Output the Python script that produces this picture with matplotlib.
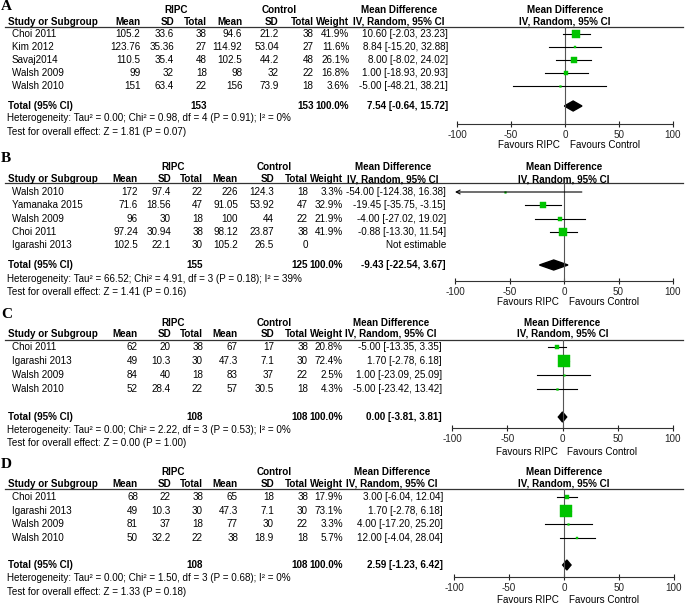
import numpy as np
import matplotlib
matplotlib.use("Agg")
import matplotlib.pyplot as plt

plt.rcParams['font.family'] = ['Liberation Sans', 'DejaVu Sans']
FS = 7.1
GREEN = '#00c400'
W, H = 685, 605

# ---------------- data ----------------
# Panel A
a_studies = ["Choi 2011", "Kim 2012", "Savaj2014", "Walsh 2009", "Walsh 2010"]
a_ripc_mean = [105.2, 123.76, 110.5, 99, 151]
a_ripc_sd = [33.6, 35.36, 35.4, 32, 63.4]
a_ripc_n = [38, 27, 48, 18, 22]
a_ctrl_mean = [94.6, 114.92, 102.5, 98, 156]
a_ctrl_sd = [21.2, 53.04, 44.2, 32, 73.9]
a_ctrl_n = [38, 27, 48, 22, 18]
a_weight = [41.9, 11.6, 26.1, 16.8, 3.6]
a_md = [10.60, 8.84, 8.00, 1.00, -5.00]
a_lo = [-2.03, -15.20, -8.02, -18.93, -48.21]
a_hi = [23.23, 32.88, 24.02, 20.93, 38.21]
a_total = (153, 153, 7.54, -0.64, 15.72)
a_het = "Heterogeneity: Tau\u00b2 = 0.00; Chi\u00b2 = 0.98, df = 4 (P = 0.91); I\u00b2 = 0%"
a_test = "Test for overall effect: Z = 1.81 (P = 0.07)"

# Panel B
b_studies = ["Walsh 2010", "Yamanaka 2015", "Walsh 2009", "Choi 2011", "Igarashi 2013"]
b_ripc_mean = [172, 71.6, 96, 97.24, 102.5]
b_ripc_sd = [97.4, 18.56, 30, 30.94, 22.1]
b_ripc_n = [22, 47, 18, 38, 30]
b_ctrl_mean = [226, 91.05, 100, 98.12, 105.2]
b_ctrl_sd = [124.3, 53.92, 44, 23.87, 26.5]
b_ctrl_n = [18, 47, 22, 38, 0]
b_weight = [3.3, 32.9, 21.9, 41.9, None]
b_md = [-54.00, -19.45, -4.00, -0.88, None]
b_lo = [-124.38, -35.75, -27.02, -13.30, None]
b_hi = [16.38, -3.15, 19.02, 11.54, None]
b_total = (155, 125, -9.43, -22.54, 3.67)
b_het = "Heterogeneity: Tau\u00b2 = 66.52; Chi\u00b2 = 4.91, df = 3 (P = 0.18); I\u00b2 = 39%"
b_test = "Test for overall effect: Z = 1.41 (P = 0.16)"

# Panel C
c_studies = ["Choi 2011", "Igarashi 2013", "Walsh 2009", "Walsh 2010"]
c_ripc_mean = [62, 49, 84, 52]
c_ripc_sd = [20, 10.3, 40, 28.4]
c_ripc_n = [38, 30, 18, 22]
c_ctrl_mean = [67, 47.3, 83, 57]
c_ctrl_sd = [17, 7.1, 37, 30.5]
c_ctrl_n = [38, 30, 22, 18]
c_weight = [20.8, 72.4, 2.5, 4.3]
c_md = [-5.00, 1.70, 1.00, -5.00]
c_lo = [-13.35, -2.78, -23.09, -23.42]
c_hi = [3.35, 6.18, 25.09, 13.42]
c_total = (108, 108, 0.00, -3.81, 3.81)
c_het = "Heterogeneity: Tau\u00b2 = 0.00; Chi\u00b2 = 2.22, df = 3 (P = 0.53); I\u00b2 = 0%"
c_test = "Test for overall effect: Z = 0.00 (P = 1.00)"

# Panel D
d_studies = ["Choi 2011", "Igarashi 2013", "Walsh 2009", "Walsh 2010"]
d_ripc_mean = [68, 49, 81, 50]
d_ripc_sd = [22, 10.3, 37, 32.2]
d_ripc_n = [38, 30, 18, 22]
d_ctrl_mean = [65, 47.3, 77, 38]
d_ctrl_sd = [18, 7.1, 30, 18.9]
d_ctrl_n = [38, 30, 22, 18]
d_weight = [17.9, 73.1, 3.3, 5.7]
d_md = [3.00, 1.70, 4.00, 12.00]
d_lo = [-6.04, -2.78, -17.20, -4.04]
d_hi = [12.04, 6.18, 25.20, 28.04]
d_total = (108, 108, 2.59, -1.23, 6.42)
d_het = "Heterogeneity: Tau\u00b2 = 0.00; Chi\u00b2 = 1.50, df = 3 (P = 0.68); I\u00b2 = 0%"
d_test = "Test for overall effect: Z = 1.33 (P = 0.18)"

xticks = [-100, -50, 0, 50, 100]

# ---------------- layout (pixels) ----------------
base_cols = [138, 171, 203, 238, 274, 308, 343]
layouts = {
    'A': dict(letter=7, grp=10, hdr=22, line=27, row0=34, step=13.0, total=106,
              het=118, test=132, axis=124, fav=145, fl=457, fr=673, mdr=448, mdc=399, scale=1.018),
    'B': dict(letter=158, grp=167, hdr=179, line=183, row0=192, step=13.3, total=265,
              het=279, test=292, axis=281, fav=302, fl=455, fr=673, mdr=446, mdc=393, scale=1.0),
    'C': dict(letter=315, grp=323, hdr=334, line=340, row0=347, step=14.0, total=417,
              het=430, test=443, axis=428, fav=452, fl=452, fr=673, mdr=442, mdc=391, scale=1.0),
    'D': dict(letter=465, grp=472, hdr=484, line=489, row0=497, step=13.7, total=565,
              het=578, test=592, axis=577, fav=600, fl=454, fr=674, mdr=443, mdc=392, scale=1.0),
}

fig = plt.figure(figsize=(W / 100, H / 100), dpi=100)
tax = fig.add_axes([0, 0, 1, 1])
tax.set_xlim(0, W)
tax.set_ylim(H, 0)
tax.axis('off')


def txt(x, y, s, ha='left', bold=False, **kw):
    tax.text(x, y, s, ha=ha, va='center', fontsize=FS,
             fontweight='bold' if bold else 'normal', **kw)


def draw_panel(letter, studies, rm, rsd, rn, cm, csd, cn, wt, md, lo, hi, total, het, test):
    L = layouts[letter]
    cols = [c * L['scale'] for c in base_cols]
    zero_px = (L['fl'] + L['fr']) / 2

    # headers
    tax.text(1, L['letter'], letter, ha='left', va='center', fontsize=11,
             fontweight='bold', family=['Liberation Serif', 'DejaVu Serif'])
    txt((cols[0] + cols[2]) / 2 + 3, L['grp'], "RIPC", ha='center', bold=True)
    txt((cols[3] + cols[5]) / 2 + 1, L['grp'], "Control", ha='center', bold=True)
    txt(L['mdc'], L['grp'], "Mean Difference", ha='center', bold=True)
    txt(zero_px, L['grp'], "Mean Difference", ha='center', bold=True)
    txt(8, L['hdr'], "Study or Subgroup", bold=True)
    for c, s in zip(cols, ["Mean", "SD", "Total", "Mean", "SD", "Total", "Weight"]):
        txt(c, L['hdr'], s, ha='right', bold=True)
    txt(L['mdc'], L['hdr'], "IV, Random, 95% CI", ha='center', bold=True)
    txt(zero_px, L['hdr'], "IV, Random, 95% CI", ha='center', bold=True)
    tax.plot([5, 683], [L['line'], L['line']], color='#333333', lw=0.9)

    # study rows
    for i, name in enumerate(studies):
        y = L['row0'] + i * L['step']
        txt(12, y, name)
        vals = [f"{rm[i]:g}", f"{rsd[i]:g}", f"{rn[i]}", f"{cm[i]:g}", f"{csd[i]:g}", f"{cn[i]}"]
        for c, s in zip(cols[:6], vals):
            txt(c, y, s, ha='right')
        if wt[i] is not None:
            txt(cols[6], y, f"{wt[i]:.1f}%", ha='right')
            txt(L['mdr'], y, f"{md[i]:.2f} [{lo[i]:.2f}, {hi[i]:.2f}]", ha='right')
        else:
            txt(L['mdr'], y, "Not estimable", ha='right')

    # total rows
    txt(8, L['total'], "Total (95% CI)", bold=True)
    txt(cols[2], L['total'], f"{total[0]}", ha='right', bold=True)
    txt(cols[5], L['total'], f"{total[1]}", ha='right', bold=True)
    txt(cols[6], L['total'], "100.0%", ha='right', bold=True)
    txt(L['mdr'], L['total'], f"{total[2]:.2f} [{total[3]:.2f}, {total[4]:.2f}]", ha='right', bold=True)
    txt(7, L['het'], het)
    txt(7, L['test'], test)
    txt(zero_px - 5, L['fav'], "Favours RIPC", ha='right')
    txt(zero_px + 5, L['fav'], "Favours Control", ha='left')

    # forest axes
    ax = fig.add_axes([L['fl'] / W, 1 - L['axis'] / H,
                       (L['fr'] - L['fl']) / W, (L['axis'] - L['line']) / H])
    ax.set_facecolor('none')
    ax.set_xlim(-100, 100)
    ax.set_ylim((L['axis'] - L['row0']) / L['step'], (L['line'] - L['row0']) / L['step'])
    for side in ['top', 'left', 'right']:
        ax.spines[side].set_visible(False)
    ax.spines['bottom'].set_linewidth(0.8)
    ax.spines['bottom'].set_color('#333333')
    ax.set_xticks(xticks)
    ax.set_xticklabels([f"{t}" for t in xticks])
    ax.set_yticks([])
    ax.tick_params(axis='x', direction='inout', length=4, width=0.8,
                   labelsize=FS, pad=2, colors='#222222')
    ax.axvline(0, color='#555555', lw=0.8)

    for i in range(len(studies)):
        if md[i] is None:
            continue
        if lo[i] < -100:
            ax.annotate('', xy=(-100, i), xytext=(hi[i], i),
                        arrowprops=dict(arrowstyle='->', color='k', lw=0.8,
                                        shrinkA=0, shrinkB=0, mutation_scale=7))
        else:
            ax.plot([lo[i], hi[i]], [i, i], color='k', lw=0.8)
        side = 1.2 + 0.15 * wt[i]
        ax.plot(md[i], i, 's', ms=side * 0.72, color=GREEN, mec=GREEN, mew=0.3)

    ty = (L['total'] - L['row0']) / L['step']
    h = 5.0 / L['step']
    ax.fill([total[3], total[2], total[4], total[2]], [ty, ty - h, ty, ty + h], color='k')


draw_panel('A', a_studies, a_ripc_mean, a_ripc_sd, a_ripc_n, a_ctrl_mean, a_ctrl_sd, a_ctrl_n,
           a_weight, a_md, a_lo, a_hi, a_total, a_het, a_test)
draw_panel('B', b_studies, b_ripc_mean, b_ripc_sd, b_ripc_n, b_ctrl_mean, b_ctrl_sd, b_ctrl_n,
           b_weight, b_md, b_lo, b_hi, b_total, b_het, b_test)
draw_panel('C', c_studies, c_ripc_mean, c_ripc_sd, c_ripc_n, c_ctrl_mean, c_ctrl_sd, c_ctrl_n,
           c_weight, c_md, c_lo, c_hi, c_total, c_het, c_test)
draw_panel('D', d_studies, d_ripc_mean, d_ripc_sd, d_ripc_n, d_ctrl_mean, d_ctrl_sd, d_ctrl_n,
           d_weight, d_md, d_lo, d_hi, d_total, d_het, d_test)

fig.savefig("out.png", dpi=100)
